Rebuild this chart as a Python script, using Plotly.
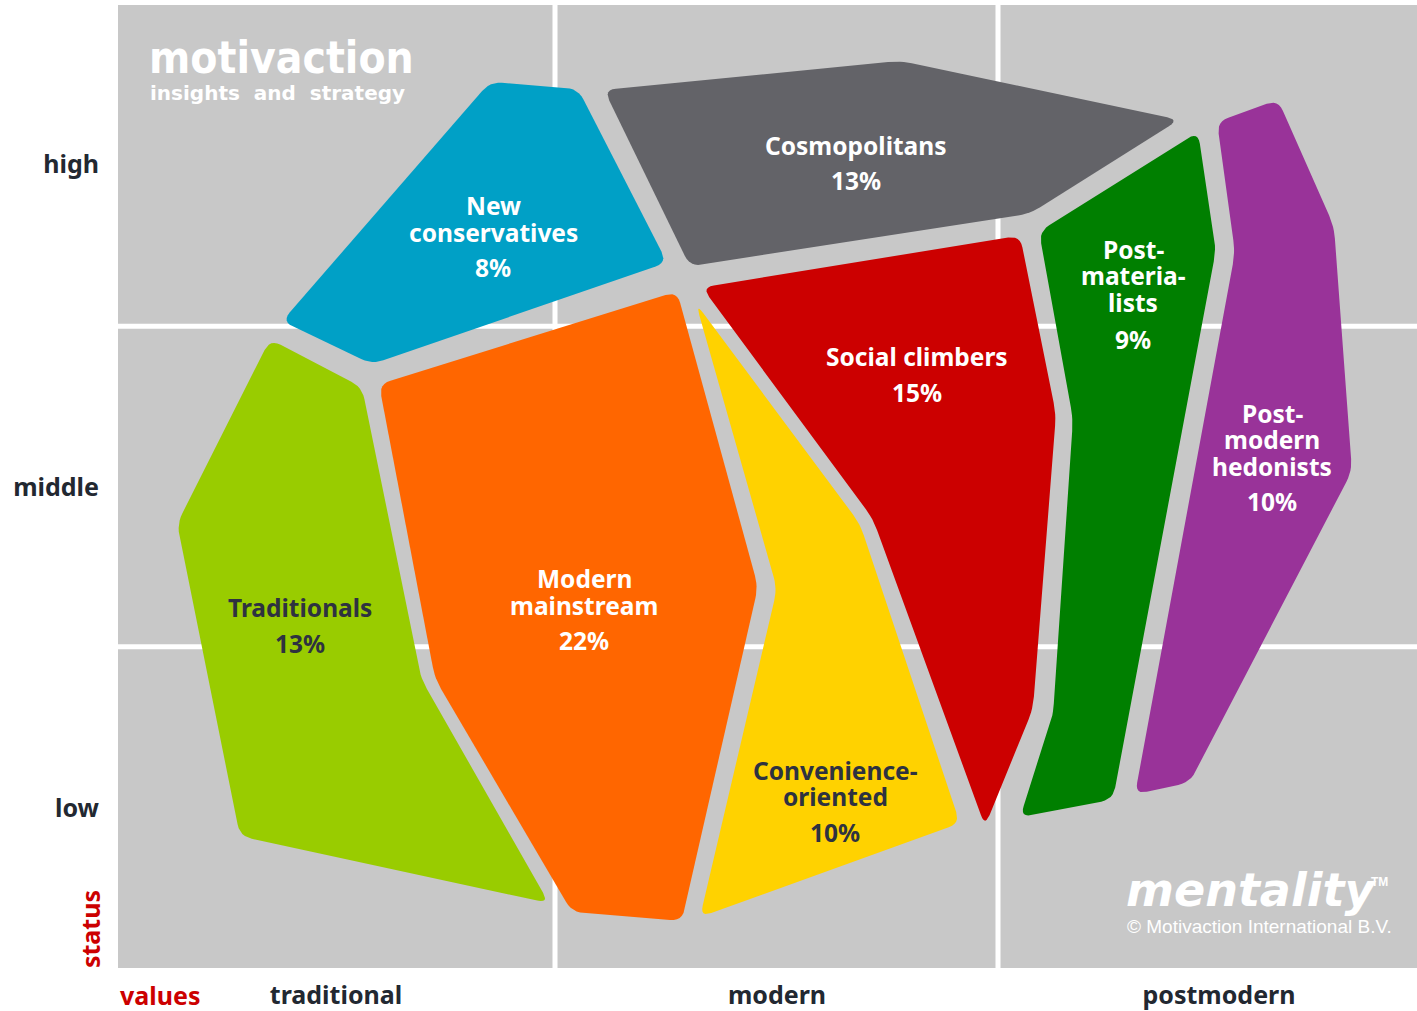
import plotly.graph_objects as go

# segments of the mentality model
segments = [
    "Traditionals", "New conservatives", "Modern mainstream", "Convenience-oriented",
    "Cosmopolitans", "Social climbers", "Post-materialists", "Post-modern hedonists",
]
label_lines = [
    ["Traditionals"], ["New", "conservatives"], ["Modern", "mainstream"],
    ["Convenience-", "oriented"], ["Cosmopolitans"], ["Social climbers"],
    ["Post-", "materia-", "lists"], ["Post-", "modern", "hedonists"],
]
shares = [13, 8, 22, 10, 13, 15, 9, 10]
colors = ["#99CC00", "#00A0C6", "#FF6600", "#FFD200", "#636368", "#CC0000", "#007F00", "#993399"]
text_colors = ["#2E3240", "white", "white", "#2E3240", "white", "white", "white", "white"]

value_ticks = ["traditional", "modern", "postmodern"]
status_ticks = ["high", "middle", "low"]

# outlines of each segment in chart space (x: values axis, y: status axis, top = 5)
outlines = {
    "Traditionals": [(270, 340), (362, 388), (421, 680), (549, 905), (240, 838), (177, 525)],
    "New conservatives": [(490, 82), (578, 89), (667, 263), (372, 365), (282, 322)],
    "Modern mainstream": [(379, 385), (677, 292), (758, 588), (682, 923), (572, 914), (435, 680)],
    "Convenience-oriented": [(696, 304), (860, 525), (960, 825), (700, 919), (777, 590)],
    "Cosmopolitans": [(604, 90), (900, 61), (1179, 120), (1030, 214), (690, 267)],
    "Social climbers": [(702, 288), (1020, 236), (1056, 415), (1033, 710), (985, 828), (873, 520)],
    "Post-materialists": [(1039, 232), (1198, 132), (1216, 250), (1113, 801), (1020, 819), (1053, 717), (1073, 420)],
    "Post-modern hedonists": [(1217, 122), (1278, 100), (1334, 227), (1352, 472), (1190, 784), (1135, 796), (1235, 253)],
}
# label anchors (centre x, first line y, percent y)
label_pos = [
    (300, 609, 645), (493, 206, 268), (584, 580, 642), (835, 772, 834),
    (856, 146, 181), (917, 357, 393), (1133, 250, 340), (1272, 414, 503),
]

W, H = 1417, 1011
X0, X1, Y0, Y1 = 118, 1417, 5, 970
col_edges = [555, 998]
row_edges = [327, 648]
col_centres = [336, 777, 1219]
row_centres = [165, 488, 810]

FONT = "Noto Sans"


def rounded(pts, r=14, n=6):
    xs, ys = [], []
    k = len(pts)
    for i in range(k):
        px, py = pts[i]
        ax, ay = pts[i - 1]
        bx, by = pts[(i + 1) % k]
        da = ((ax - px) ** 2 + (ay - py) ** 2) ** 0.5
        db = ((bx - px) ** 2 + (by - py) ** 2) ** 0.5
        ta, tb = min(r / da, 0.45), min(r / db, 0.45)
        p1 = (px + (ax - px) * ta, py + (ay - py) * ta)
        p2 = (px + (bx - px) * tb, py + (by - py) * tb)
        for j in range(n + 1):
            t = j / n
            xs.append((1 - t) ** 2 * p1[0] + 2 * (1 - t) * t * px + t ** 2 * p2[0])
            ys.append((1 - t) ** 2 * p1[1] + 2 * (1 - t) * t * py + t ** 2 * p2[1])
    xs.append(xs[0])
    ys.append(ys[0])
    return xs, ys


def paper(x, y):
    # chart-space point -> paper coordinates (for text outside the plot area)
    return (x - X0) / (X1 - X0), (Y1 - y) / (Y1 - Y0)


fig = go.Figure()

for name, col in zip(segments, colors):
    xs, ys = rounded(outlines[name], r=12)
    fig.add_trace(go.Scatter(
        x=xs, y=ys, mode="lines", fill="toself", fillcolor=col,
        line=dict(width=0, color=col), hoverinfo="text", text=name, showlegend=False,
    ))

shapes = []
for x in col_edges:
    shapes.append(dict(type="line", x0=x, x1=x, y0=Y0, y1=Y1, line=dict(color="white", width=5), layer="below"))
for y in row_edges:
    shapes.append(dict(type="line", x0=X0, x1=X1, y0=y, y1=y, line=dict(color="white", width=5), layer="below"))

annotations = []
for lines, share, tc, (cx, y1, yp) in zip(label_lines, shares, text_colors, label_pos):
    for k, line in enumerate(lines):
        annotations.append(dict(
            x=cx, y=y1 + 26.5 * k, text=f"<b>{line}</b>", showarrow=False,
            font=dict(family=FONT, size=24.5, color=tc), xanchor="center", yanchor="middle",
        ))
    annotations.append(dict(
        x=cx, y=yp, text=f"<b>{share}%</b>", showarrow=False,
        font=dict(family=FONT, size=24.5, color=tc), xanchor="center", yanchor="middle",
    ))

# logos
annotations += [
    dict(x=147, y=58, text="<b>motivaction</b>", showarrow=False, xanchor="left", yanchor="middle",
         font=dict(family="DejaVu Sans Condensed", size=44, color="white")),
    dict(x=148, y=93, text="<b>insights  and  strategy</b>", showarrow=False, xanchor="left", yanchor="middle",
         font=dict(family="DejaVu Sans", size=20, color="white")),
    dict(x=1124, y=892, text="<b><i>mentality</i></b>", showarrow=False, xanchor="left", yanchor="middle",
         font=dict(family="DejaVu Sans", size=46, color="white")),
    dict(x=1369, y=884, text="<b>TM</b>", showarrow=False, xanchor="left", yanchor="middle",
         font=dict(family="Liberation Sans", size=12, color="white")),
    dict(x=1125, y=928, text="© Motivaction International B.V.", showarrow=False, xanchor="left", yanchor="middle",
         font=dict(family="Liberation Sans", size=19, color="white")),
]

# axis names, outside the plot area
vx, vy = paper(118, 997)
sx, sy = paper(90, 931)
annotations += [
    dict(x=vx, y=vy, xref="paper", yref="paper", text="<b>values</b>", showarrow=False,
         xanchor="left", yanchor="middle", font=dict(family=FONT, size=25, color="#CC0000")),
    dict(x=sx, y=sy, xref="paper", yref="paper", text="<b>status</b>", showarrow=False, textangle=-90,
         xanchor="center", yanchor="middle", font=dict(family=FONT, size=25, color="#CC0000")),
]

fig.update_layout(
    width=W, height=H,
    margin=dict(l=X0, r=W - X1, t=Y0, b=H - Y1),
    paper_bgcolor="white", plot_bgcolor="#C8C8C8",
    shapes=shapes, annotations=annotations,
    xaxis=dict(range=[X0, X1], showgrid=False, zeroline=False, showline=False,
               tickvals=col_centres, ticktext=[f"<b>{t}</b>" for t in value_ticks],
               tickfont=dict(family=FONT, size=25, color="#222831"), ticks="", ticklabelstandoff=10,
               fixedrange=True),
    yaxis=dict(range=[Y1, Y0], showgrid=False, zeroline=False, showline=False,
               tickvals=row_centres, ticktext=[f"<b>{t}</b>" for t in status_ticks],
               tickfont=dict(family=FONT, size=25, color="#222831"), ticks="", ticklabelstandoff=18,
               fixedrange=True),
)

fig.write_html("out.html", config={"displayModeBar": False},
               post_script="document.body.style.margin='0';")
